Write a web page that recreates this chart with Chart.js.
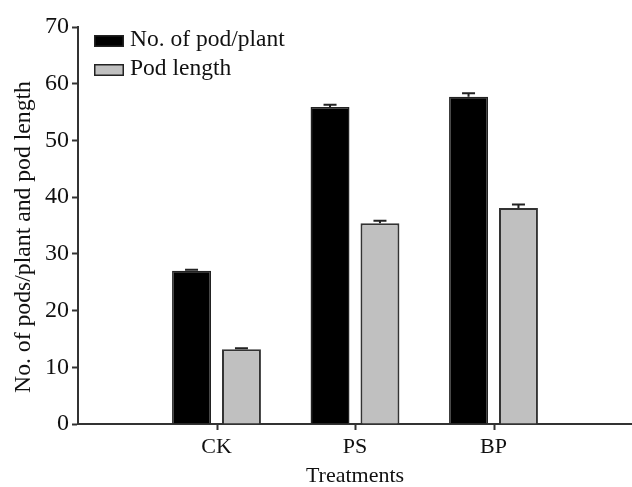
<!DOCTYPE html>
<html>
<head>
<meta charset="utf-8">
<script src="https://cdn.jsdelivr.net/npm/chart.js@4"></script>
<style>
  html, body { margin: 0; padding: 0; background: #fff; }
  #wrap { width: 632px; height: 487px; position: relative; }
</style>
</head>
<body>
<div id="wrap"><canvas id="c" width="632" height="487"></canvas></div>
<script>
const categories = ['', 'CK', 'PS', 'BP', ''];
const seriesNames = ['No. of pod/plant', 'Pod length'];
const podsPerPlant = [null, 27.0, 55.9, 57.7, null];
const podsPerPlantErr = [null, 0.2, 0.4, 0.6, null];
const podLength = [null, 13.2, 35.4, 38.1, null];
const podLengthErr = [null, 0.15, 0.45, 0.6, null];
const yMin = 0, yMax = 70, yStep = 10;
const xTitle = 'Treatments';
const yTitle = 'No. of pods/plant and pod length';

const FONT = "'Liberation Serif', 'Times New Roman', serif";
const INK = '#111';

const errorBars = {
  id: 'errorBars',
  afterDatasetsDraw(chart) {
    const ctx = chart.ctx;
    const y = chart.scales.y;
    ctx.save();
    ctx.strokeStyle = '#222';
    ctx.lineWidth = 2;
    chart.data.datasets.forEach((ds, di) => {
      const meta = chart.getDatasetMeta(di);
      meta.data.forEach((el, i) => {
        const v = ds.data[i], e = ds.errors[i];
        if (v == null || e == null) return;
        const top = y.getPixelForValue(v + e);
        const base = y.getPixelForValue(v);
        ctx.beginPath();
        ctx.moveTo(el.x, base);
        ctx.lineTo(el.x, top);
        ctx.moveTo(el.x - 6.5, top);
        ctx.lineTo(el.x + 6.5, top);
        ctx.stroke();
      });
    });
    ctx.restore();
  }
};

// category tick marks (only under named categories) + rotated y title
const axisExtras = {
  id: 'axisExtras',
  afterDraw(chart) {
    const ctx = chart.ctx;
    const xs = chart.scales.x;
    const area = chart.chartArea;
    ctx.save();
    ctx.strokeStyle = '#333';
    ctx.lineWidth = 2;
    xs.ticks.forEach((t, i) => {
      if (!categories[i]) return;
      const px = Math.round(xs.getPixelForTick(i)) + 0.5;
      ctx.beginPath();
      ctx.moveTo(px, area.bottom);
      ctx.lineTo(px, area.bottom + 6);
      ctx.stroke();
    });
    ctx.translate(24, 237);
    ctx.rotate(-Math.PI / 2);
    ctx.font = '23.7px ' + FONT;
    ctx.fillStyle = INK;
    ctx.textAlign = 'center';
    ctx.textBaseline = 'middle';
    ctx.fillText(yTitle, 0, 0);
    ctx.restore();
  }
};

const boxLegend = {
  id: 'boxLegend',
  afterDraw(chart) {
    const ctx = chart.ctx;
    ctx.save();
    ctx.font = '23.5px ' + FONT;
    ctx.textBaseline = 'middle';
    chart.data.datasets.forEach((ds, di) => {
      const top = 35 + di * 29;
      ctx.fillStyle = ds.backgroundColor;
      ctx.fillRect(94, top, 30, 12);
      ctx.strokeStyle = '#222';
      ctx.lineWidth = 1.5;
      ctx.strokeRect(94.75, top + 0.75, 28.5, 10.5);
      ctx.fillStyle = INK;
      ctx.fillText(ds.label, 130, top + 5);
    });
    ctx.restore();
  }
};

new Chart(document.getElementById('c'), {
  type: 'bar',
  data: {
    labels: categories,
    datasets: [
      { label: seriesNames[0], data: podsPerPlant, errors: podsPerPlantErr,
        backgroundColor: '#000000', borderColor: '#222', borderWidth: 1.5 },
      { label: seriesNames[1], data: podLength, errors: podLengthErr,
        backgroundColor: '#c0c0c0', borderColor: '#333', borderWidth: 2 }
    ]
  },
  options: {
    responsive: false,
    animation: false,
    devicePixelRatio: 1,
    layout: { padding: { top: 27, right: 0, left: 0, bottom: 0 } },
    datasets: { bar: { categoryPercentage: 0.721, barPercentage: 0.78 } },
    plugins: { legend: { display: false }, tooltip: { enabled: false } },
    scales: {
      x: {
        offset: false,
        afterFit(s) { s.height = 63; },
        border: { display: true, color: '#333', width: 2 },
        grid: { offset: false, drawOnChartArea: false, drawTicks: true, tickLength: 10, tickColor: 'rgba(0,0,0,0)' },
        ticks: { color: INK, font: { family: FONT, size: 22 }, padding: 0, maxRotation: 0, autoSkip: false },
        title: { display: true, text: xTitle, color: INK, font: { family: FONT, size: 22, lineHeight: 1 }, padding: { top: -2, bottom: 0 } }
      },
      y: {
        min: yMin, max: yMax,
        afterFit(s) { s.width = 78; },
        border: { display: true, color: '#333', width: 2 },
        grid: { drawOnChartArea: false, drawTicks: true, tickLength: 6, tickWidth: 2, tickColor: '#333' },
        ticks: { stepSize: yStep, color: INK, font: { family: FONT, size: 24 }, padding: 3 },
        title: { display: false, text: yTitle }
      }
    }
  },
  plugins: [errorBars, axisExtras, boxLegend]
});
</script>
</body>
</html>
